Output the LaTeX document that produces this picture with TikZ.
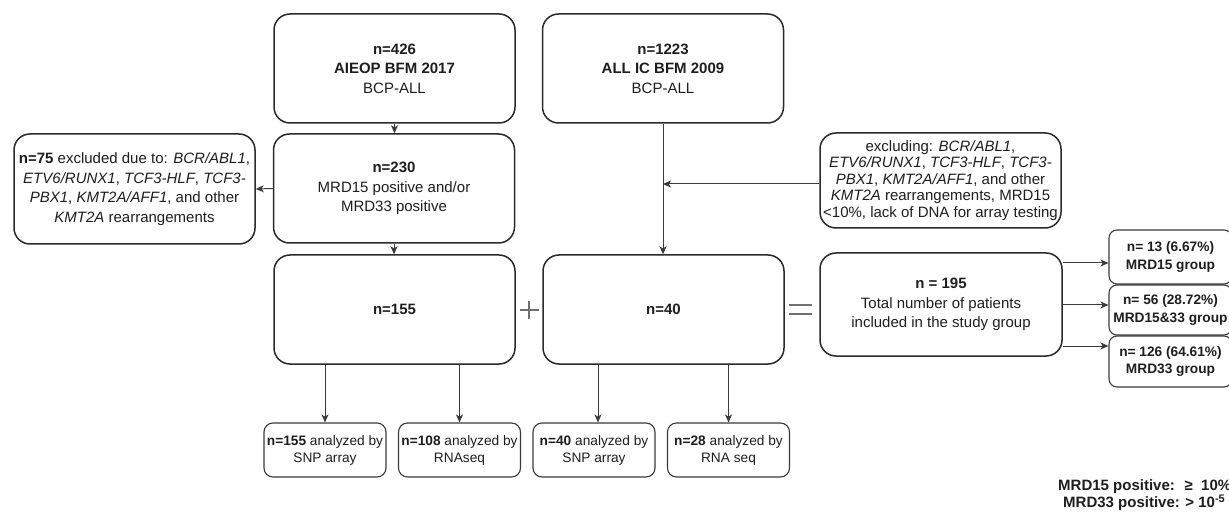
\documentclass[tikz,border=0pt]{standalone}
\usepackage{fontspec}
\setmainfont{Liberation Sans}
\usetikzlibrary{arrows.meta}
\definecolor{ink}{HTML}{1E1E1E}
\definecolor{edge}{HTML}{2A2A2A}
\definecolor{thin}{HTML}{3A3A3A}
\definecolor{op}{HTML}{707070}
\begin{document}
\begin{tikzpicture}[x=1pt,y=-1pt,
  bigbox/.style={draw=edge, line width=1.5pt, rounded corners=16pt, minimum width=241pt,
    inner sep=0pt, align=center, text=ink, font=\fontsize{15}{19.5}\selectfont},
  smallbox/.style={draw=thin, line width=1.1pt, rounded corners=9pt, minimum width=122pt,
    minimum height=54pt, inner sep=0pt, align=center, text=ink, font=\fontsize{13.7}{17}\selectfont},
  grpbox/.style={draw=thin, line width=1.1pt, rounded corners=8pt, minimum width=123pt,
    inner sep=0pt, align=center, text=ink, font=\bfseries\fontsize{13.7}{17.5}\selectfont},
  arr/.style={draw=thin, line width=1pt, -{Stealth[length=8pt,width=7pt,inset=2.2pt]}},
  opline/.style={draw=op, line width=1.3pt},
  legend/.style={anchor=west, inner sep=0pt, text=ink, font=\bfseries\fontsize{15}{16}\selectfont}
]
\fill[white] (0,0) rectangle (1229,521);
\useasboundingbox (0,0) rectangle (1229,521);

\node[bigbox, minimum height=109pt] (A) at (394.5,68.5)
  {\textbf{n=426}\\\textbf{AIEOP BFM 2017}\\BCP-ALL};
\node[bigbox, minimum height=109pt] (B) at (663,68.5)
  {\textbf{n=1223}\\\textbf{ALL IC BFM 2009}\\BCP-ALL};
\node[bigbox, minimum height=109pt] (C) at (394,188.5)
  {\textbf{n=230}\\MRD15 positive and/or\\MRD33 positive};
\node[bigbox, minimum height=110pt] (X) at (134.5,189)
  {\textbf{n=75} excluded due to: \textit{BCR/ABL1},\\
   \textit{ETV6/RUNX1}, \textit{TCF3-HLF}, \textit{TCF3-}\\
   \textit{PBX1}, \textit{KMT2A/AFF1}, and other\\
   \textit{KMT2A} rearrangements};
\node[bigbox, minimum height=95pt, font=\fontsize{15}{16.5}\selectfont] (Y) at (940.5,180.5)
  {excluding: \textit{BCR/ABL1},\\
   \textit{ETV6/RUNX1}, \textit{TCF3-HLF}, \textit{TCF3-}\\
   \textit{PBX1}, \textit{KMT2A/AFF1}, and other\\
   \textit{KMT2A} rearrangements, MRD15\\
   <10\%, lack of DNA for array testing};
\node[bigbox, minimum height=109pt] (D) at (394.5,309.5) {\textbf{n=155}};
\node[bigbox, minimum height=109pt] (E) at (663.5,309.5) {\textbf{n=40}};
\node[bigbox, minimum width=242pt, minimum height=103pt] (T) at (941,304.5)
  {\textbf{n = 195}\\Total number of patients\\included in the study group};

\node[grpbox, minimum height=54pt] (M1) at (1170.5,257) {n= 13 (6.67\%)\\MRD15 group};
\node[grpbox, minimum height=50pt] (M2) at (1170.5,310) {n= 56 (28.72\%)\\MRD15\&33 group};
\node[grpbox, minimum height=51pt] (M3) at (1170.5,361.5) {n= 126 (64.61\%)\\MRD33 group};

\node[smallbox] (b1) at (325,450) {\textbf{n=155} analyzed by\\SNP array};
\node[smallbox] (b2) at (459.5,450) {\textbf{n=108} analyzed by\\RNAseq};
\node[smallbox] (b3) at (594,450) {\textbf{n=40} analyzed by\\SNP array};
\node[smallbox] (b4) at (728.5,450) {\textbf{n=28} analyzed by\\RNA seq};

\coordinate (J) at (663,184);
\draw[arr] (A.south) -- (A.south |- C.north);
\draw[arr] (C.west) -- (X.east);
\draw[arr] (B.south) -- (B.south |- E.north);
\draw[arr] (Y.west |- J) -- (J);
\draw[arr] (C.south) -- (C.south |- D.north);
\draw[arr] (D.south -| b1.north) -- (b1.north);
\draw[arr] (D.south -| b2.north) -- (b2.north);
\draw[arr] ([xshift=4pt]b3.north |- E.south) -- ([xshift=4pt]b3.north);
\draw[arr] (E.south -| b4.north) -- (b4.north);
\draw[arr] ([yshift=-6pt]M1.west -| T.east) -- ([yshift=-6pt]M1.west);
\draw[arr] ([yshift=5pt]M2.west -| T.east) -- ([yshift=5pt]M2.west);
\draw[arr] ([yshift=15.5pt]M3.west -| T.east) -- ([yshift=15.5pt]M3.west);

% plus and equals signs
\draw[opline] (520,310) -- (539,310);
\draw[opline] (529,301) -- (529,319);
\draw[opline] (789,305) -- (812,305);
\draw[opline] (789,314) -- (812,314);

\node[legend] (L1) at (1058,487) {MRD15 positive: \ ≥ \ 10\%};
\node[legend] (L2) at (1063,503) {MRD33 positive: > 10\raisebox{5.5pt}{\fontsize{11}{11}\selectfont -5}};
\end{tikzpicture}
\end{document}
